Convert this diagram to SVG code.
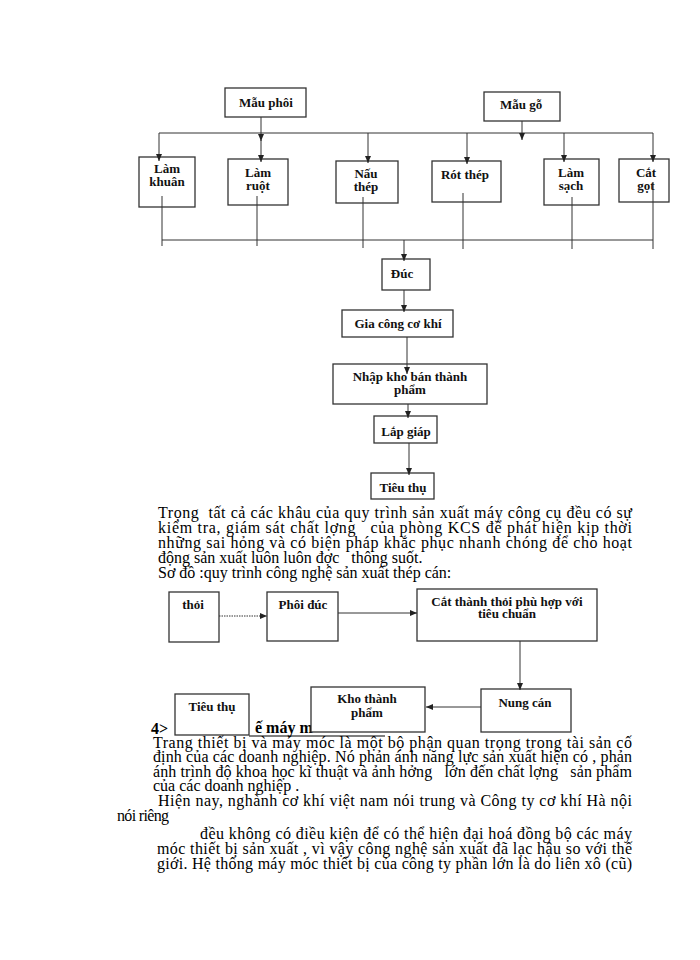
<svg xmlns="http://www.w3.org/2000/svg" width="700" height="960" viewBox="0 0 700 960">
<style>
.box{fill:#fff;stroke:#333;stroke-width:1.3}
.lbl{font-family:"Liberation Serif","Times New Roman",serif;font-weight:bold;font-size:13px;text-anchor:middle;fill:#111}
.ln{stroke:#333;stroke-width:1;fill:none}
.arr{stroke:#333;stroke-width:1;fill:none;marker-end:url(#ah)}
.body{font-family:"Liberation Serif","Times New Roman",serif;font-size:16px;fill:#000;white-space:pre}
.hd{font-family:"Liberation Serif","Times New Roman",serif;font-size:16px;font-weight:bold;fill:#000}
</style>
<defs>
<marker id="ah" markerWidth="8" markerHeight="8" refX="7" refY="4" orient="auto" markerUnits="userSpaceOnUse">
<path d="M0,1 L7,4 L0,7 z" fill="#222"/>
</marker>
</defs>
<rect width="700" height="960" fill="#fff"/>

<!-- top diagram nodes -->
<g id="mau-phoi"><rect class="box" x="225" y="88" width="81" height="29"/><text class="lbl" x="266" y="107">Mẫu phôi</text></g>
<g id="mau-go"><rect class="box" x="484" y="92" width="76" height="29"/><text class="lbl" x="521" y="109">Mẫu gỗ</text></g>
<g id="lam-khuan"><rect class="box" x="139" y="157" width="56" height="50"/><text class="lbl" x="167" y="173">Làm</text><text class="lbl" x="167" y="186">khuân</text></g>
<g id="lam-ruot"><rect class="box" x="228" y="159" width="60" height="46"/><text class="lbl" x="258" y="177">Làm</text><text class="lbl" x="258" y="190">ruột</text></g>
<g id="nau-thep"><rect class="box" x="336" y="161" width="62" height="42"/><text class="lbl" x="366" y="178">Nấu</text><text class="lbl" x="366" y="191">thép</text></g>
<g id="rot-thep"><rect class="box" x="432" y="161" width="69" height="41"/><text class="lbl" x="465" y="179">Rót thép</text></g>
<g id="lam-sach"><rect class="box" x="544" y="159" width="55" height="46"/><text class="lbl" x="571" y="177">Làm</text><text class="lbl" x="571" y="190">sạch</text></g>
<g id="cat-got"><rect class="box" x="619" y="159" width="50" height="43"/><text class="lbl" x="646" y="177">Cắt</text><text class="lbl" x="646" y="190">gọt</text></g>
<g id="duc"><rect class="box" x="382" y="259" width="48" height="31"/><text class="lbl" x="402" y="278">Đúc</text></g>
<g id="gia-cong"><rect class="box" x="342" y="310" width="111" height="27"/><text class="lbl" x="398" y="328">Gia công cơ khí</text></g>
<g id="nhap-kho"><rect class="box" x="333" y="364" width="154" height="40"/><text class="lbl" x="410" y="381">Nhập kho bán thành</text><text class="lbl" x="410" y="394">phẩm</text></g>
<g id="lap-giap"><rect class="box" x="374" y="416" width="63" height="27"/><text class="lbl" x="406" y="436">Lắp giáp</text></g>
<g id="tieu-thu-1"><rect class="box" x="371" y="473" width="63" height="26"/><text class="lbl" x="403" y="492">Tiêu thụ</text></g>

<!-- top diagram connectors -->
<g id="connectors-1">
<line class="ln" x1="159" y1="133" x2="653" y2="133"/>
<line class="arr" x1="261" y1="117" x2="261" y2="141"/>
<line class="arr" x1="261" y1="140" x2="261" y2="162"/>
<line class="arr" x1="522" y1="121" x2="522" y2="140"/>
<line class="arr" x1="159" y1="133" x2="159" y2="161"/>
<line class="arr" x1="368" y1="133" x2="368" y2="163"/>
<line class="arr" x1="467" y1="133" x2="467" y2="164"/>
<line class="arr" x1="564" y1="133" x2="564" y2="162"/>
<line class="arr" x1="653" y1="133" x2="653" y2="162"/>
<line class="ln" x1="162" y1="196" x2="162" y2="246"/>
<line class="ln" x1="257" y1="196" x2="257" y2="246"/>
<line class="ln" x1="363" y1="197" x2="363" y2="248"/>
<line class="ln" x1="463" y1="193" x2="463" y2="249"/>
<line class="ln" x1="572" y1="197" x2="572" y2="249"/>
<line class="ln" x1="653" y1="182" x2="653" y2="249"/>
<line class="ln" x1="162" y1="240" x2="653" y2="240"/>
<line class="arr" x1="404" y1="240" x2="404" y2="261"/>
<line class="arr" x1="404" y1="290" x2="404" y2="312"/>
<line class="arr" x1="407" y1="337" x2="407" y2="374"/>
<line class="arr" x1="408" y1="404" x2="408" y2="418"/>
<line class="arr" x1="409" y1="443" x2="409" y2="475"/>
</g>

<!-- text paragraph 1 -->
<g>
<text class="body" xml:space="preserve" x="158" y="518" textLength="474" lengthAdjust="spacing">Trọng  tất cả các khâu của quy trình sản xuất máy công cụ đều có sự</text>
<text class="body" xml:space="preserve" x="158" y="533" textLength="474" lengthAdjust="spacing">kiểm tra, giám sát chất lợng   của phòng KCS để phát hiện kịp thời</text>
<text class="body" xml:space="preserve" x="158" y="548" textLength="474" lengthAdjust="spacing">những sai hỏng và có biện pháp khắc phục nhanh chóng để cho hoạt</text>
<text class="body" xml:space="preserve" x="158" y="563">động sản xuất luôn luôn đợc   thông suốt.</text>
<text class="body" xml:space="preserve" x="158" y="578">Sơ đồ :quy trình công nghệ sản xuất thép cán:</text>
</g>

<!-- heading (partly hidden by boxes) -->
<g id="heading">
<text class="hd" x="151" y="734">4&gt;</text>
<text class="hd" x="255" y="733">ế máy m</text>
<line x1="249" y1="736" x2="385" y2="736" stroke="#000" stroke-width="1"/>
</g>

<!-- second diagram nodes -->
<g id="thoi"><rect class="box" x="169" y="592" width="50" height="50"/><text class="lbl" x="193" y="609">thỏi</text></g>
<g id="phoi-duc"><rect class="box" x="267" y="592" width="71" height="49"/><text class="lbl" x="303" y="609">Phôi đúc</text></g>
<g id="cat-thanh"><rect class="box" x="417" y="589" width="180" height="52"/><text class="lbl" x="507" y="606">Cắt thành thỏi phù hợp với</text><text class="lbl" x="507" y="618">tiêu chuẩn</text></g>
<g id="nung-can"><rect class="box" x="481" y="689" width="90" height="43"/><text class="lbl" x="525" y="707">Nung cán</text></g>
<g id="kho-thanh-pham"><rect class="box" x="311" y="687" width="114" height="45"/><text class="lbl" x="367" y="703">Kho thành</text><text class="lbl" x="367" y="717">phẩm</text></g>
<g id="tieu-thu-2"><rect class="box" x="175" y="694" width="74" height="41"/><text class="lbl" x="212" y="711">Tiêu thụ</text></g>

<!-- second diagram connectors -->
<g id="connectors-2">
<line class="arr" x1="219" y1="616" x2="267" y2="616" stroke-dasharray="1.5 1"/>
<line class="arr" x1="338" y1="613" x2="417" y2="613"/>
<line class="arr" x1="520" y1="641" x2="520" y2="690"/>
<line class="arr" x1="481" y1="707" x2="426" y2="707"/>
</g>

<!-- text paragraph 2 -->
<g>
<text class="body" xml:space="preserve" x="153" y="748" textLength="479" lengthAdjust="spacing">Trang thiết bị và máy móc là một bộ phận quan trọng trong tài sản cố</text>
<text class="body" xml:space="preserve" x="153" y="762" textLength="479" lengthAdjust="spacing">định của các doanh nghiệp. Nó phản ánh năng lực sản xuất hiện có , phản</text>
<text class="body" xml:space="preserve" x="153" y="777" textLength="479" lengthAdjust="spacing">ánh trình độ khoa học kĩ thuật và ảnh hởng   lớn đến chất lợng   sản phẩm</text>
<text class="body" xml:space="preserve" x="153" y="791">của các doanh nghiệp .</text>
<text class="body" xml:space="preserve" x="158" y="806" textLength="474" lengthAdjust="spacing">Hiện nay, nghành cơ khí việt nam nói trung và Công ty cơ khí Hà nội</text>
<text class="body" xml:space="preserve" x="117" y="821" textLength="52" lengthAdjust="spacing">nói riêng</text>
<text class="body" xml:space="preserve" x="200" y="839" textLength="432" lengthAdjust="spacing">đều không có điều kiện để có thể hiện đại hoá đồng bộ các máy</text>
<text class="body" xml:space="preserve" x="157" y="854" textLength="475" lengthAdjust="spacing">móc thiết bị sản xuất , vì vậy công nghệ sản xuất đã lạc hậu so với thế</text>
<text class="body" xml:space="preserve" x="157" y="869" textLength="475" lengthAdjust="spacing">giới. Hệ thống máy móc thiết bị của công ty phần lớn là do liên xô (cũ)</text>
</g>
</svg>
